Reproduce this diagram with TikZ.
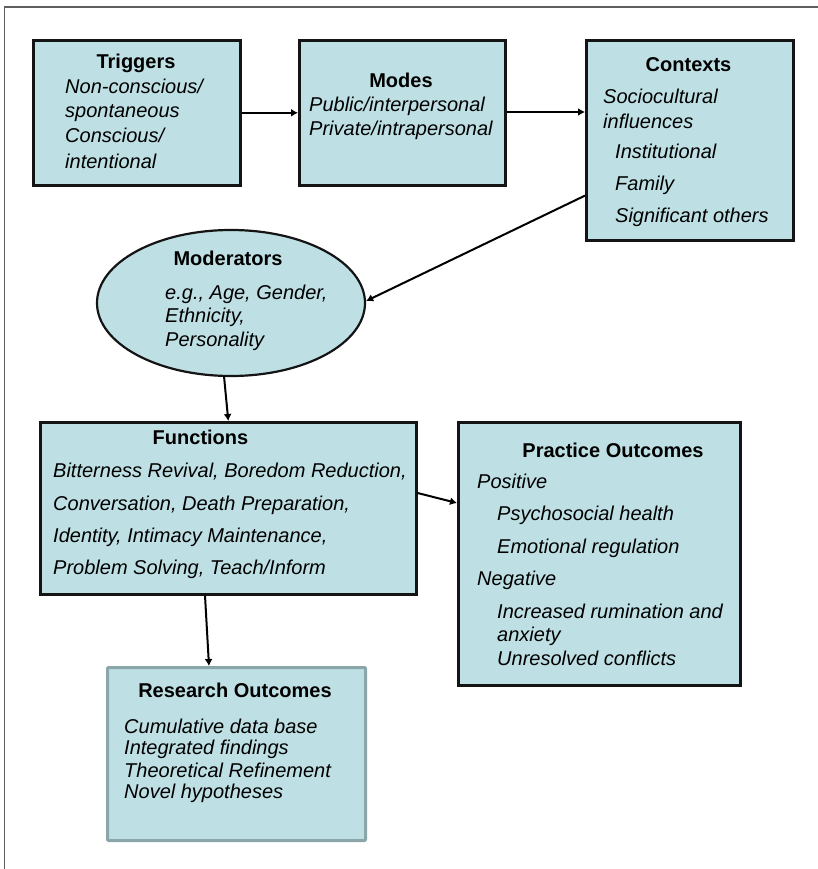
\documentclass[tikz,border=0pt]{standalone}
\usepackage{fontspec}
\setmainfont{Liberation Sans}
\usetikzlibrary{shapes.geometric,arrows.meta,calc}
\definecolor{boxfill}{RGB}{190,224,228}
\definecolor{boxline}{RGB}{20,20,20}
\definecolor{resborder}{RGB}{138,166,168}
\definecolor{framegray}{RGB}{95,95,95}
\tikzset{
  box/.style={draw=boxline, line width=2.6pt, fill=boxfill, rectangle, inner sep=0pt, anchor=north west},
  resbox/.style={box, draw=resborder, line width=3pt, rounded corners=1pt},
  bodytxt/.style={anchor=base west, inner sep=0pt, font=\fontsize{20}{24}\selectfont\itshape},
  headtxt/.style={anchor=base, inner sep=0pt, font=\fontsize{20}{24}\selectfont\bfseries},
  conn/.style={line width=2pt, -{Latex[length=7pt,width=8pt]}},
}
\begin{document}
\begin{tikzpicture}[x=1pt,y=-1pt]
\useasboundingbox (0,0) rectangle (818,869);
% outer frame
\draw[framegray, line width=1.5pt] (4.5,869) -- (4.5,7) -- (818,7);

% boxes
\node[box, minimum width=207pt, minimum height=145pt] (trig) at (32,39) {};
\node[box, minimum width=206pt, minimum height=145pt] (modes) at (298,39) {};
\node[box, minimum width=207pt, minimum height=200pt] (ctx) at (585,39) {};
\node[draw=boxline, line width=2.2pt, fill=boxfill, ellipse, inner sep=0pt,
      minimum width=268pt, minimum height=146pt] (mod) at (231,303) {};
\node[box, minimum width=376pt, minimum height=172pt] (fun) at (39,421) {};
\node[box, minimum width=282pt, minimum height=263pt] (prac) at (457,421) {};
\node[resbox, minimum width=258pt, minimum height=173pt] (res) at (106,666) {};

% Triggers
\node[headtxt] (trigH) at (136,69) {Triggers};
\node[bodytxt] (trig1) at (65,94) {Non-conscious/};
\node[bodytxt] (trig2) at (65,118) {spontaneous};
\node[bodytxt] (trig3) at (65,143) {Conscious/};
\node[bodytxt] (trig4) at (65,168) {intentional};

% Modes
\node[headtxt] (modesH) at (401,88) {Modes};
\node[bodytxt] (modes1) at (309,112) {Public/interpersonal};
\node[bodytxt] (modes2) at (309,136) {Private/intrapersonal};

% Contexts
\node[headtxt] (ctxH) at (688.5,72) {Contexts};
\node[bodytxt] (ctx1) at (603,104) {Sociocultural};
\node[bodytxt] (ctx2) at (603,129) {influences};
\node[bodytxt] (ctx3) at (615,159) {Institutional};
\node[bodytxt] (ctx4) at (615,190) {Family};
\node[bodytxt] (ctx5) at (615,222) {Significant others};

% Moderators
\node[headtxt] (modH) at (228,265) {Moderators};
\node[bodytxt] (mod1) at (165,299) {e.g., Age, Gender,};
\node[bodytxt] (mod2) at (165,322) {Ethnicity,};
\node[bodytxt] (mod3) at (165,346) {Personality};

% Functions
\node[headtxt] (funH) at (200.5,444) {Functions};
\node[bodytxt] (fun1) at (53,477) {Bitterness Revival, Boredom Reduction,};
\node[bodytxt] (fun2) at (53,510) {Conversation, Death Preparation,};
\node[bodytxt] (fun3) at (53,542) {Identity, Intimacy Maintenance,};
\node[bodytxt] (fun4) at (53,574) {Problem Solving, Teach/Inform};

% Practice outcomes
\node[headtxt] (pracH) at (613,457) {Practice Outcomes};
\node[bodytxt] (prac1) at (477,488) {Positive};
\node[bodytxt] (prac2) at (497,520) {Psychosocial health};
\node[bodytxt] (prac3) at (497,553) {Emotional regulation};
\node[bodytxt] (prac4) at (477,585) {Negative};
\node[bodytxt] (prac5) at (497,618) {Increased rumination and};
\node[bodytxt] (prac6) at (497,641) {anxiety};
\node[bodytxt] (prac7) at (497,665) {Unresolved conflicts};

% Research outcomes
\node[headtxt] (resH) at (235,697) {Research Outcomes};
\node[bodytxt] (res1) at (124,733) {Cumulative data base};
\node[bodytxt] (res2) at (124,754) {Integrated findings};
\node[bodytxt] (res3) at (124,777) {Theoretical Refinement};
\node[bodytxt] (res4) at (124,798) {Novel hypotheses};

% connectors
\draw[conn] (trig.east) -- (modes.west);
\draw[conn] ($(modes.north east)+(0,73)$) -- ($(ctx.north west)+(0,73)$);
\draw[conn] ($(ctx.south west)+(0,-46)$) -- ($(mod.east)+(0,-2)$);
\draw[conn] ($(mod.south)+(-7,-1)$) -- (fun.north);
\draw[conn] ($(fun.north east)+(0,72)$) -- ($(prac.north west)+(0,82)$);
\draw[conn] ($(fun.south west)+(166,0)$) -- ($(res.north west)+(103,0)$);
\end{tikzpicture}
\end{document}
